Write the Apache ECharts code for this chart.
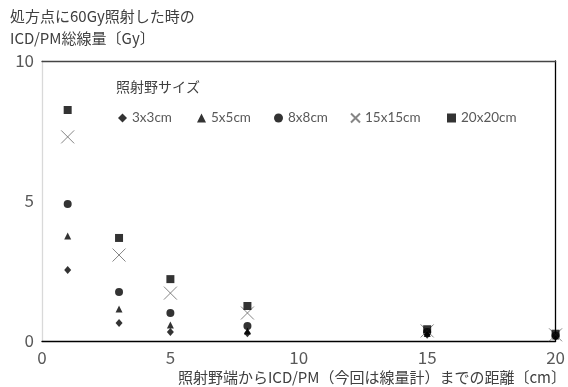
<!DOCTYPE html>
<html><head><meta charset="utf-8">
<script src="https://cdn.jsdelivr.net/npm/echarts@6/dist/echarts.min.js"></script>
<style>html,body{margin:0;padding:0;background:#fff}#c{width:568px;height:387px}</style>
</head><body><div id="c"></div>
<script>
const distances = [1, 3, 5, 8, 15, 20];
const seriesNames = ['3x3cm', '5x5cm', '8x8cm', '15x15cm', '20x20cm'];
const s3x3 = [2.54, 0.64, 0.32, 0.28, 0.22, 0.15];
const s5x5 = [3.75, 1.14, 0.57, 0.36, 0.27, 0.18];
const s8x8 = [4.89, 1.75, 1.0, 0.54, 0.32, 0.2];
const s15x15 = [7.29, 3.07, 1.71, 1.0, 0.36, 0.22];
const s20x20 = [8.25, 3.68, 2.21, 1.25, 0.42, 0.26];
const yTicks = [0, 5, 10];
const xTicks = [0, 5, 10, 15, 20];

const chart = echarts.init(document.getElementById('c'));
const FONT = '"Noto Sans CJK JP", sans-serif';
const pair = arr => distances.map((d, i) => [d, arr[i]]);
const crossPath = 'path://M0,0L10,10M10,0L0,10';
const defs = [
  {name: seriesNames[0], data: s3x3, symbol: 'diamond', size: [7, 8], style: {color: '#000'}},
  {name: seriesNames[1], data: s5x5, symbol: 'triangle', size: [7, 7], style: {color: '#000'}},
  {name: seriesNames[2], data: s8x8, symbol: 'circle', size: 8, style: {color: '#000'}},
  {name: seriesNames[3], data: s15x15, symbol: crossPath, size: 13, style: {color: 'rgba(0,0,0,0)', borderColor: '#666', borderWidth: 1}},
  {name: seriesNames[4], data: s20x20, symbol: 'rect', size: 8, style: {color: '#000'}}
];
const legendLeft = [113, 192, 269, 345, 442];
chart.setOption({
  animation: false,
  grid: {left: 42, right: 12, top: 61, bottom: 46},
  xAxis: [{
    type: 'value', min: 0, max: 20, interval: 5,
    axisLine: {show: true, onZero: false, lineStyle: {color: '#000', width: 1.3}},
    axisTick: {show: false}, splitLine: {show: false},
    axisLabel: {color: '#595959', fontSize: 17, fontFamily: FONT, margin: 8,
      formatter: v => xTicks.includes(v) ? String(v) : ''}
  }, {
    type: 'value', min: 0, max: 20, position: 'top',
    axisLine: {show: true, onZero: false, lineStyle: {color: '#444', width: 1.3}},
    axisTick: {show: false}, axisLabel: {show: false}, splitLine: {show: false}
  }],
  yAxis: [{
    type: 'value', min: 0, max: 10, interval: 5,
    axisLine: {show: true, onZero: false, lineStyle: {color: '#d9d9d9', width: 1.3}},
    axisTick: {show: false}, splitLine: {show: false},
    axisLabel: {color: '#595959', fontSize: 17, fontFamily: FONT, margin: 8,
      formatter: v => yTicks.includes(v) ? String(v) : ''}
  }, {
    type: 'value', min: 0, max: 10, position: 'right',
    axisLine: {show: true, onZero: false, lineStyle: {color: '#000', width: 1.3}},
    axisTick: {show: false}, axisLabel: {show: false}, splitLine: {show: false}
  }],
  legend: defs.map((d, i) => ({
    data: [d.name], left: legendLeft[i], top: 106, itemWidth: 9, itemHeight: 9,
    itemGap: 4, textStyle: {color: '#595959', fontSize: 13.5, fontFamily: 'Lato, sans-serif'},
    selectedMode: false
  })),
  graphic: [
    {type: 'text', left: 10, top: 9, style: {text: '処方点に60Gy照射した時の', fill: '#404040', font: '15px ' + FONT}},
    {type: 'text', left: 10, top: 31, style: {text: 'ICD/PM総線量〔Gy〕', fill: '#404040', font: '15px ' + FONT}},
    {type: 'text', left: 116, top: 80, style: {text: '照射野サイズ', fill: '#404040', font: '14px ' + FONT}},
    {type: 'text', right: 2, top: 370, style: {text: '照射野端からICD/PM（今回は線量計）までの距離〔cm〕', fill: '#404040', font: '15px ' + FONT}}
  ],
  series: defs.map(d => ({
    name: d.name, type: 'scatter', data: pair(d.data), symbol: d.symbol,
    symbolSize: d.size, itemStyle: d.style
  }))
});
</script></body></html>
